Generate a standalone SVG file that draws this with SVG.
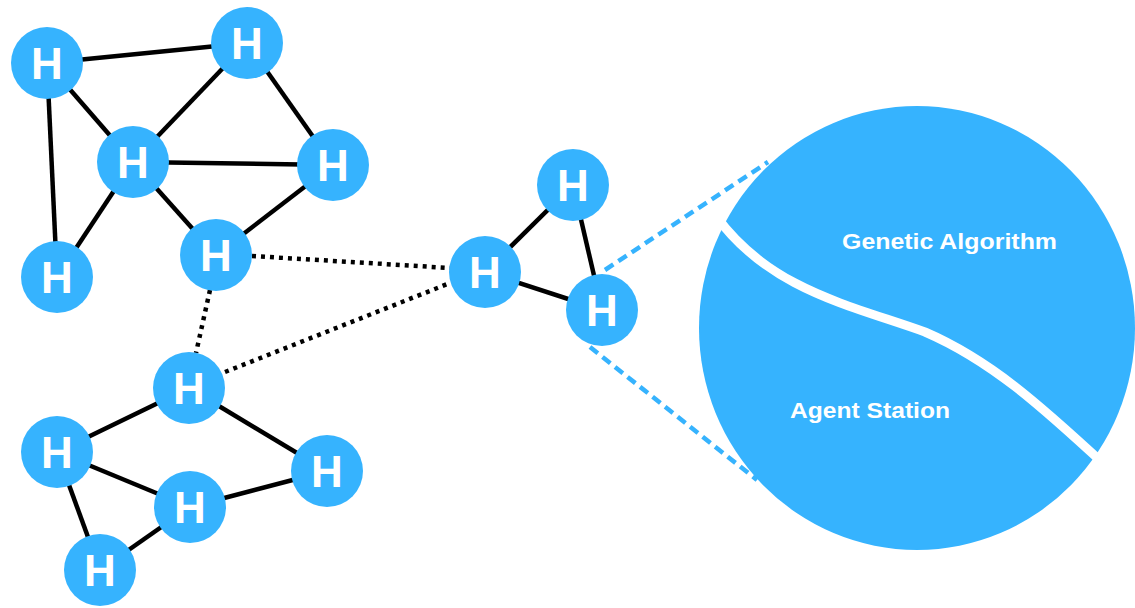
<svg xmlns="http://www.w3.org/2000/svg" width="1135" height="608" viewBox="0 0 1135 608">
<style>
.n{fill:#36b3fe}
.h{fill:#fff;font-family:"Liberation Sans",Arial,sans-serif;font-weight:bold;font-size:44px;text-anchor:middle}
.e{stroke:#000;stroke-width:4.5;fill:none}
.d{stroke:#000;stroke-width:4.5;fill:none;stroke-dasharray:4 5}
.b{stroke:#36b3fe;stroke-width:4.5;fill:none;stroke-dasharray:10 6}
.lbl{fill:#fff;font-family:"Liberation Sans",Arial,sans-serif;font-weight:bold;font-size:22px}
</style>
<rect width="1135" height="608" fill="#fff"/>
<g id="connectors">
<line class="e" x1="47" y1="63" x2="247" y2="43"/>
<line class="e" x1="47" y1="63" x2="133" y2="162"/>
<line class="e" x1="47" y1="63" x2="57" y2="277"/>
<line class="e" x1="247" y1="43" x2="133" y2="162"/>
<line class="e" x1="247" y1="43" x2="333" y2="165"/>
<line class="e" x1="133" y1="162" x2="333" y2="165"/>
<line class="e" x1="133" y1="162" x2="57" y2="277"/>
<line class="e" x1="133" y1="162" x2="216" y2="255"/>
<line class="e" x1="333" y1="165" x2="216" y2="255"/>
<line class="e" x1="189" y1="388" x2="57" y2="452"/>
<line class="e" x1="189" y1="388" x2="327" y2="471"/>
<line class="e" x1="57" y1="452" x2="190" y2="507"/>
<line class="e" x1="57" y1="452" x2="100" y2="570"/>
<line class="e" x1="190" y1="507" x2="327" y2="471"/>
<line class="e" x1="190" y1="507" x2="100" y2="570"/>
<line class="e" x1="485" y1="272" x2="573" y2="185"/>
<line class="e" x1="485" y1="272" x2="602" y2="310"/>
<line class="e" x1="573" y1="185" x2="602" y2="310"/>
<line class="d" x1="252" y1="256" x2="450" y2="268"/>
<line class="d" x1="210" y1="290" x2="196" y2="353"/>
<line class="d" x1="225" y1="372" x2="450" y2="283"/>
<line class="b" x1="605" y1="270" x2="768" y2="162"/>
<line class="b" x1="590" y1="347" x2="757" y2="480"/>
</g>
<g id="n1"><circle class="n" cx="47" cy="63" r="36"/><text class="h" x="47" y="79">H</text></g>
<g id="n2"><circle class="n" cx="247" cy="43" r="36"/><text class="h" x="247" y="59">H</text></g>
<g id="n3"><circle class="n" cx="133" cy="162" r="36"/><text class="h" x="133" y="178">H</text></g>
<g id="n4"><circle class="n" cx="333" cy="165" r="36"/><text class="h" x="333" y="181">H</text></g>
<g id="n5"><circle class="n" cx="57" cy="277" r="36"/><text class="h" x="57" y="293">H</text></g>
<g id="n6"><circle class="n" cx="216" cy="255" r="36"/><text class="h" x="216" y="271">H</text></g>
<g id="n7"><circle class="n" cx="485" cy="272" r="36"/><text class="h" x="485" y="288">H</text></g>
<g id="n8"><circle class="n" cx="573" cy="185" r="36"/><text class="h" x="573" y="201">H</text></g>
<g id="n9"><circle class="n" cx="602" cy="310" r="36"/><text class="h" x="602" y="326">H</text></g>
<g id="n10"><circle class="n" cx="189" cy="388" r="36"/><text class="h" x="189" y="404">H</text></g>
<g id="n11"><circle class="n" cx="57" cy="452" r="36"/><text class="h" x="57" y="468">H</text></g>
<g id="n12"><circle class="n" cx="327" cy="471" r="36"/><text class="h" x="327" y="487">H</text></g>
<g id="n13"><circle class="n" cx="190" cy="507" r="36"/><text class="h" x="190" y="523">H</text></g>
<g id="n14"><circle class="n" cx="100" cy="570" r="36"/><text class="h" x="100" y="586">H</text></g>
<g id="zoom-circle">
<ellipse class="n" cx="917" cy="328" rx="218" ry="222"/>
<path d="M716,216 C770,290 850,305 925,332 C990,360 1040,405 1105,465" stroke="#fff" stroke-width="9" fill="none"/>
<text class="lbl" x="842" y="249" textLength="215" lengthAdjust="spacingAndGlyphs">Genetic Algorithm</text>
<text class="lbl" x="790" y="418" textLength="160" lengthAdjust="spacingAndGlyphs">Agent Station</text>
</g>
</svg>
